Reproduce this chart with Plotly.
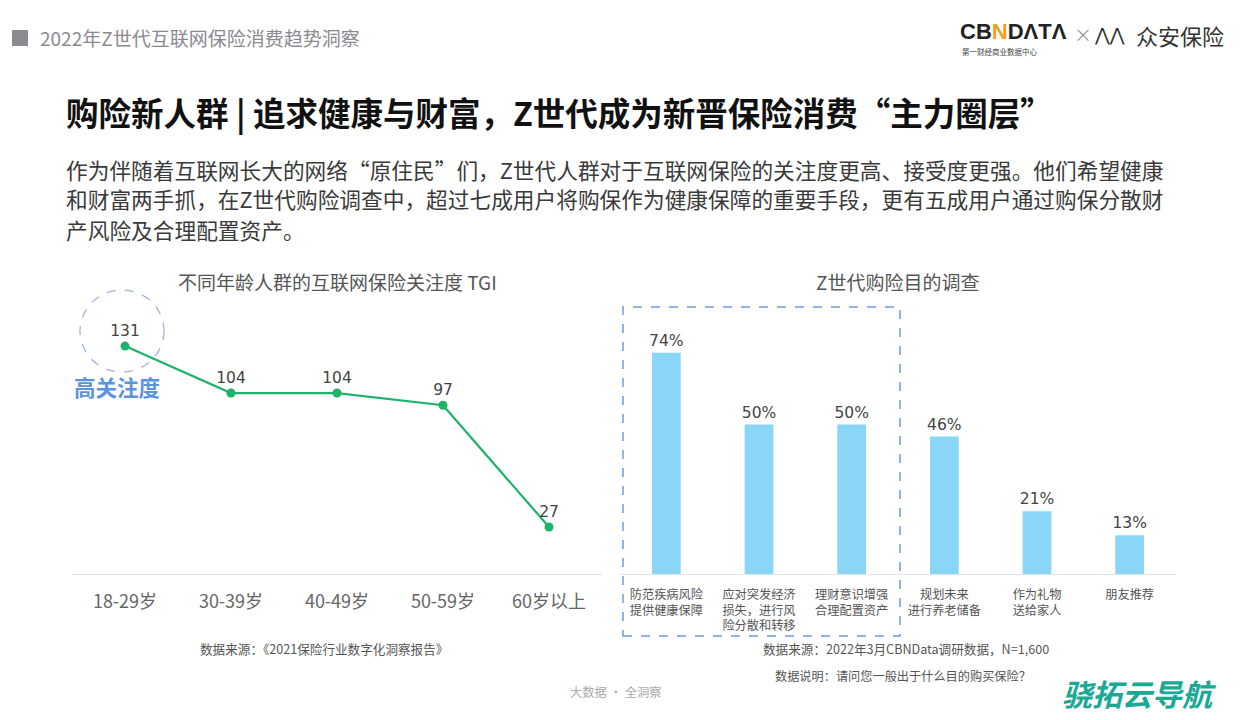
import plotly.graph_objects as go

# ---------------- data ----------------
age_groups = ["18-29岁", "30-39岁", "40-49岁", "50-59岁", "60岁以上"]
tgi_values = [131, 104, 104, 97, 27]

purposes = [
    "防范疾病风险<br>提供健康保障",
    "应对突发经济<br>损失，进行风<br>险分散和转移",
    "理财意识增强<br>合理配置资产",
    "规划未来<br>进行养老储备",
    "作为礼物<br>送给家人",
    "朋友推荐",
]
purpose_pct = [74, 50, 50, 46, 21, 13]

FONT = "Noto Sans CJK SC, Microsoft YaHei, sans-serif"
NUMFONT = "DejaVu Sans, Verdana, sans-serif"
W, H = 1242, 720
OFF = 8  # page body margin compensation


def px(x):
    return (x - OFF) / W


def py(y):
    return (H - y + OFF) / H


fig = go.Figure()

# line chart
fig.add_trace(go.Scatter(
    x=age_groups, y=tgi_values,
    mode="lines+markers+text",
    line=dict(color="#1DB36A", width=2.2),
    marker=dict(color="#1DB36A", size=9),
    text=[str(v) for v in tgi_values],
    textposition="top center",
    textfont=dict(family=NUMFONT, size=15.5, color="#444444"),
    cliponaxis=False,
    xaxis="x", yaxis="y", showlegend=False, hoverinfo="skip",
))

# bar chart
fig.add_trace(go.Bar(
    x=purposes, y=purpose_pct,
    marker=dict(color="#89D6F7", line=dict(width=0)),
    text=[f"{v}%" for v in purpose_pct],
    textposition="outside",
    constraintext="none",
    textfont=dict(family=NUMFONT, size=15.5, color="#444444"),
    cliponaxis=False,
    xaxis="x2", yaxis="y2", showlegend=False, hoverinfo="skip",
))

axis_common = dict(
    showgrid=False, zeroline=False, ticks="",
    showline=True, linecolor="#e3e3e3", linewidth=1,
)

fig.update_layout(
    width=W, height=H,
    margin=dict(l=0, r=0, t=0, b=0),
    paper_bgcolor="white", plot_bgcolor="white",
    font=dict(family=FONT),
    bargap=0.69,
    uniformtext=dict(mode=False),
    xaxis=dict(domain=[px(72), px(602)], range=[-0.5, 4.5], anchor="y",
               tickfont=dict(family=FONT, size=18, color="#666666"),
               ticklabelstandoff=11, **axis_common),
    yaxis=dict(domain=[py(574), py(313)], range=[0, 150], anchor="x",
               visible=False),
    xaxis2=dict(domain=[px(620), px(1176)], range=[-0.5, 5.5], anchor="y2",
                tickfont=dict(family=FONT, size=12.2, color="#555555"),
                ticklabelstandoff=9, **axis_common),
    yaxis2=dict(domain=[py(574), py(320)], range=[0, 85], anchor="x2",
                visible=False),
)

shapes = [
    # header square
    dict(type="rect", xref="paper", yref="paper",
         x0=px(12), x1=px(28), y0=py(46), y1=py(30),
         fillcolor="#8a8a90", line=dict(width=0)),
    # dashed circle highlighting 131
    dict(type="circle", xref="paper", yref="paper",
         x0=px(80), x1=px(164), y0=py(372), y1=py(290),
         line=dict(color="#9fb6dd", width=1.3, dash="dash")),
    # dashed box in bar chart
    dict(type="rect", xref="paper", yref="paper",
         x0=px(623), x1=px(900), y0=py(636), y1=py(307),
         line=dict(color="#6f9be0", width=1.5, dash="dash")),
]
fig.update_layout(shapes=shapes)

ann = []


def add_text(x, y, text, size, color, xanchor="left", bold=False, family=FONT, italic=False):
    t = f"<b>{text}</b>" if bold else text
    if italic:
        t = f"<i>{t}</i>"
    ann.append(dict(x=px(x), y=py(y), xref="paper", yref="paper", text=t,
                    showarrow=False, xanchor=xanchor, yanchor="middle",
                    font=dict(family=family, size=size, color=color)))


add_text(38, 38, "2022年Z世代互联网保险消费趋势洞察", 19, "#8a8a90")

# logo area
add_text(958, 32, "CB<span style='color:#f0a020'>N</span>DΛTΛ", 22, "#222222", bold=True,
         family="Liberation Sans, Arial, sans-serif")
add_text(960, 51, "第一财经商业数据中心", 7.5, "#444444")
add_text(1072, 34, "×", 18, "#999999")
add_text(1092, 35, "⋀⋀", 18, "#333333", family="DejaVu Sans, sans-serif")
add_text(1134, 35, "众安保险", 22, "#333333")

# title
add_text(64, 111, "购险新人群 | 追求健康与财富，Z世代成为新晋保险消费“主力圈层”", 32.5, "#111111", bold=True)

# paragraph
para = [
    "作为伴随着互联网长大的网络“原住民”们，Z世代人群对于互联网保险的关注度更高、接受度更强。他们希望健康",
    "和财富两手抓，在Z世代购险调查中，超过七成用户将购保作为健康保障的重要手段，更有五成用户通过购保分散财",
    "产风险及合理配置资产。",
]
for i, line in enumerate(para):
    add_text(64, 169 + i * 30, line, 21.7, "#3a3a3a")

# chart titles
add_text(337, 281, "不同年龄人群的互联网保险关注度 TGI", 19, "#555555", xanchor="center")
add_text(897, 281, "Z世代购险目的调查", 19, "#555555", xanchor="center")

# highlight label
add_text(117, 386, "高关注度", 21.5, "#5b93e0", xanchor="center", bold=True)

# sources
add_text(324, 648, "数据来源：《2021保险行业数字化洞察报告》", 12.6, "#555555", xanchor="center")
add_text(906, 648, "数据来源：2022年3月CBNData调研数据，N=1,600", 12.6, "#555555", xanchor="center")
add_text(903, 676, "数据说明：请问您一般出于什么目的购买保险？", 12.2, "#555555", xanchor="center")

# footer
add_text(616, 692, "大数据 · 全洞察", 12.3, "#aaaaaa", xanchor="center")
add_text(1139, 693, "骁拓云导航", 30, "#1ba996", xanchor="center", bold=True, italic=True)

fig.update_layout(annotations=ann)

fig.write_html("out.html")
